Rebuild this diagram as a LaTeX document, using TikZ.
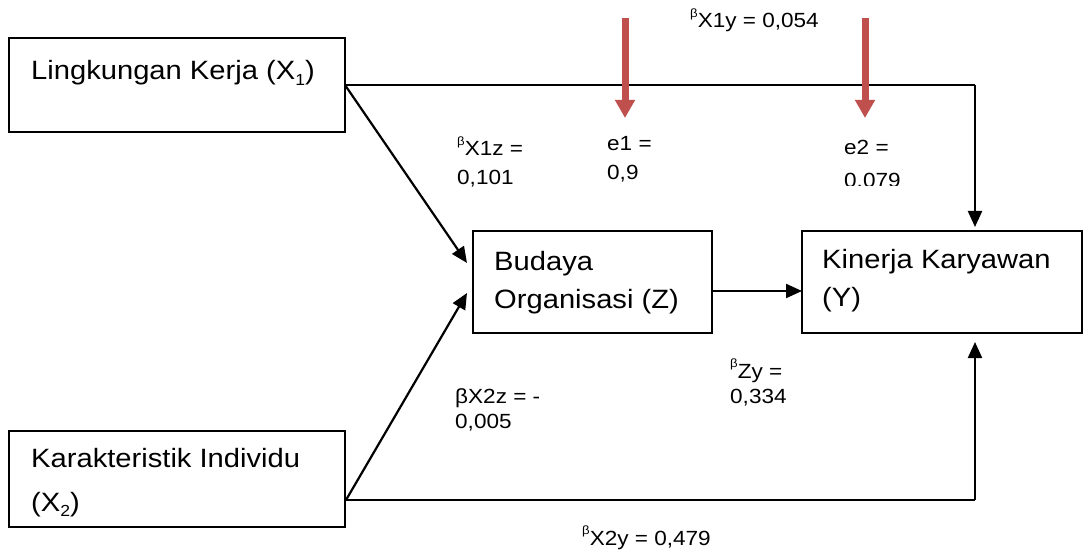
\documentclass[tikz,border=0pt]{standalone}
\usepackage{fontspec}
\setmainfont[FakeStretch=1.1]{Liberation Sans}
\usetikzlibrary{arrows.meta}
\definecolor{redarrow}{HTML}{C0504D}
\newcommand\mysub[1]{\raisebox{-0.22em}{\fontsize{16}{16}\selectfont #1}}
\newcommand\supb{\raisebox{0.5em}{\fontsize{12}{12}\selectfont β}}
\tikzset{
  box/.style={draw=black, line width=1.9pt, inner sep=0pt, outer sep=0pt, anchor=north west},
  boxtext/.style={inner sep=0pt, anchor=base west, font=\fontsize{26.5}{30}\selectfont},
  lbl/.style={inner sep=0pt, anchor=base west, font=\fontsize{20.5}{24}\selectfont},
  conn/.style={draw=black, line width=2.2pt, -{Triangle[length=16pt,width=14pt]}},
  plainline/.style={draw=black, line width=2.2pt},
  errarrow/.style={draw=redarrow, line width=7pt, -{Triangle[length=18pt,width=19pt]}},
}
\begin{document}
\begin{tikzpicture}[x=1pt,y=-1pt]
\useasboundingbox (0,0) rectangle (1084,556);
% boxes
\node[box, minimum width=336pt, minimum height=94pt] (x1) at (9,38) {};
\node[box, minimum width=336pt, minimum height=96pt] (x2) at (9,431) {};
\node[box, minimum width=239pt, minimum height=102pt] (z) at (473,231) {};
\node[box, minimum width=280pt, minimum height=102pt] (y) at (802,231) {};
% box texts
\node[boxtext] (tx1) at (31,80) {Lingkungan Kerja (X\mysub{1})};
\node[boxtext] (tx2a) at (31,467) {Karakteristik Individu};
\node[boxtext] (tx2b) at (31,511) {(X\mysub{2})};
\node[boxtext] (tza) at (494,270) {Budaya};
\node[boxtext] (tzb) at (494,308) {Organisasi (Z)};
\node[boxtext] (tya) at (822,268) {Kinerja Karyawan};
\node[boxtext] (tyb) at (822,306) {(Y)};
% coordinates
\coordinate (c1) at (975,85);
\coordinate (x2out) at (346,500);
\coordinate (c2) at (975,500);
\coordinate (zin1) at (467,263);
\coordinate (zin2) at (467,293);
\coordinate (e1a) at (625,18);
\coordinate (e1b) at (625,118);
\coordinate (e2a) at (865,18);
\coordinate (e2b) at (865,118);
% connectors
\draw[plainline] (x1.east) -- (c1);
\draw[conn] (c1) -- ([yshift=4pt]c1 |- y.north);
\draw[plainline] (x2out) -- (c2);
\draw[conn] (c2) -- ([yshift=-9pt]c2 |- y.south);
\draw[conn] (x1.east) -- (zin1);
\draw[conn] (x2out) -- (zin2);
\draw[conn] ([yshift=-9pt]z.east) -- ([yshift=-9pt]y.west);
\draw[errarrow] (e1a) -- (e1b);
\draw[errarrow] (e2a) -- (e2b);
% labels
\node[lbl] (lx1y) at (690,28) {\supb X1y = 0,054};
\node[lbl] (lx1za) at (457,156) {\supb X1z =};
\node[lbl] (lx1zb) at (457,185) {0,101};
\node[lbl] (le1a) at (607,151) {e1 =};
\node[lbl] (le1b) at (607,180) {0,9};
\node[lbl] (le2a) at (844,155) {e2 =};
\begin{scope}
\clip (800,160) rectangle (960,186);
\node[lbl] (le2b) at (844,188) {0.079};
\end{scope}
\node[lbl] (lx2za) at (455,403) {βX2z = -};
\node[lbl] (lx2zb) at (455,428) {0,005};
\node[lbl] (lzya) at (730,378) {\supb Zy =};
\node[lbl] (lzyb) at (730,403) {0,334};
\node[lbl] (lx2y) at (582,545) {\supb X2y = 0,479};
\end{tikzpicture}
\end{document}
